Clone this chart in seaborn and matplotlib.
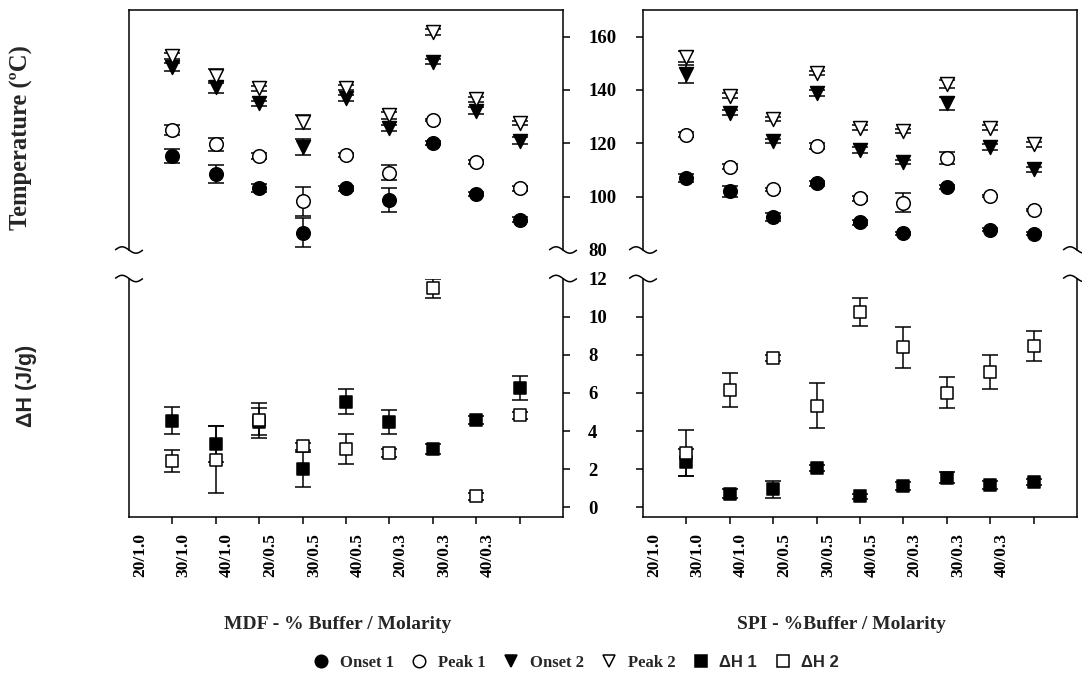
import numpy as np
import matplotlib
matplotlib.use("Agg")
import matplotlib.pyplot as plt
import matplotlib.transforms as mtransforms
from matplotlib.lines import Line2D
import seaborn as sns

# Sample positions along the x axis and the buffer / molarity conditions
positions = [1, 2, 3, 4, 5, 6, 7, 8, 9]
conditions = ["20/1.0", "30/1.0", "40/1.0", "20/0.5", "30/0.5",
              "40/0.5", "20/0.3", "30/0.3", "40/0.3"]

# MDF: transition temperatures (ºC) with standard deviations
mdf_onset1 = [115.3, 108.5, 103.4, 86.5, 103.1, 98.8, 120.0, 101.0, 91.4]
mdf_onset1_sd = [2.5, 3.2, 1.5, 5.5, 0.8, 4.5, 0.8, 0.8, 0.8]
mdf_peak1 = [125.0, 119.6, 115.3, 98.2, 115.6, 109.0, 128.8, 112.9, 103.1]
mdf_peak1_sd = [1.8, 2.4, 1.0, 5.5, 0.6, 2.8, 0.5, 0.8, 0.8]
mdf_onset2 = [148.8, 141.0, 135.0, 118.5, 137.0, 125.8, 150.6, 132.3, 121.0]
mdf_onset2_sd = [1.5, 2.3, 1.0, 3.0, 1.0, 1.0, 1.0, 1.2, 1.2]
mdf_peak2 = [152.8, 145.3, 140.6, 128.0, 140.9, 130.5, 161.8, 136.5, 127.5]
mdf_peak2_sd = [1.2, 2.5, 1.0, 2.8, 1.0, 1.2, 1.2, 1.0, 0.8]

# MDF: enthalpies (J/g) with standard deviations
mdf_dh1 = [4.55, 3.33, 4.50, 2.00, 5.55, 4.50, 3.07, 4.60, 6.28]
mdf_dh1_sd = [0.70, 0.95, 0.70, 0.93, 0.65, 0.63, 0.25, 0.20, 0.63]
mdf_dh2 = [2.45, 2.50, 4.56, 3.20, 3.07, 2.85, 11.50, 0.58, 4.82]
mdf_dh2_sd = [0.58, 1.75, 0.90, 0.20, 0.80, 0.20, 0.50, 0.20, 0.20]

# SPI: transition temperatures (ºC) with standard deviations
spi_onset1 = [107.1, 102.0, 92.5, 105.0, 90.4, 86.3, 103.6, 87.6, 86.1]
spi_onset1_sd = [1.5, 2.0, 1.5, 1.0, 1.0, 0.5, 0.8, 0.5, 0.5]
spi_peak1 = [123.2, 111.3, 102.8, 119.0, 99.4, 97.8, 114.6, 100.3, 95.0]
spi_peak1_sd = [1.0, 0.8, 0.5, 1.2, 1.0, 3.7, 2.3, 0.5, 0.5]
spi_onset2 = [146.0, 131.5, 120.8, 138.8, 117.5, 113.1, 135.0, 118.6, 110.3]
spi_onset2_sd = [3.5, 1.0, 0.8, 1.2, 1.0, 0.8, 2.5, 1.0, 1.0]
spi_peak2 = [152.5, 137.9, 129.0, 146.5, 125.9, 124.6, 142.3, 125.9, 119.6]
spi_peak2_sd = [2.0, 1.0, 0.8, 0.8, 0.8, 0.8, 1.5, 0.8, 0.8]

# SPI: enthalpies (J/g) with standard deviations
spi_dh1 = [2.36, 0.72, 0.96, 2.06, 0.58, 1.14, 1.57, 1.19, 1.33]
spi_dh1_sd = [0.70, 0.25, 0.45, 0.15, 0.15, 0.20, 0.30, 0.20, 0.15]
spi_dh2 = [2.85, 6.16, 7.85, 5.32, 10.26, 8.40, 6.02, 7.12, 8.47]
spi_dh2_sd = [1.20, 0.90, 0.15, 1.18, 0.74, 1.07, 0.80, 0.89, 0.79]

temp_ticks = [80, 100, 120, 140, 160]
dh_ticks = [0, 2, 4, 6, 8, 10, 12]

sns.set_theme(style="ticks")
plt.rcParams.update({
    "font.family": ["Liberation Serif", "DejaVu Sans"],
    "font.weight": "bold",
    "axes.linewidth": 1.1,
    "axes.edgecolor": "black",
    "xtick.color": "black",
    "ytick.color": "black",
    "figure.facecolor": "white",
    "axes.facecolor": "white",
})

W, H = 1082, 675
fig = plt.figure(figsize=(W / 100, H / 100), dpi=100)


def add_axes_px(x0, y0, x1, y1):
    return fig.add_axes([x0 / W, 1 - y1 / H, (x1 - x0) / W, (y1 - y0) / H])


LW = 1.1
SERIES_STYLE = {
    "onset1": dict(marker="o", filled=True, s=95),
    "peak1": dict(marker="o", filled=False, s=95),
    "onset2": dict(marker="v", filled=True, s=100),
    "peak2": dict(marker="v", filled=False, s=100),
    "dh1": dict(marker="s", filled=True, s=80),
    "dh2": dict(marker="s", filled=False, s=80),
}


def draw_series(ax, key, values, sd):
    st = SERIES_STYLE[key]
    ax.errorbar(positions, values, yerr=sd, fmt="none", ecolor="black",
                elinewidth=LW, capsize=5.5, capthick=LW, zorder=2)
    sns.scatterplot(x=positions, y=values, marker=st["marker"], s=st["s"],
                    color="black" if st["filled"] else "white",
                    edgecolor="black", linewidth=LW, ax=ax, zorder=3,
                    legend=False)


def draw_break(ax, xa, ya):
    # small tilde drawn across a spine end to mark the axis break
    t = np.linspace(-1, 1, 40)
    xs = t * 10 / 72          # inches
    ys = -np.sin(np.pi * t) * 2.3 / 72
    trans = fig.dpi_scale_trans + mtransforms.ScaledTranslation(xa, ya, ax.transAxes)
    ax.plot(xs, ys, color="black", lw=LW, transform=trans, clip_on=False,
            zorder=5, solid_capstyle="butt")


def hide_tick_line(ax, index):
    tick = ax.yaxis.get_major_ticks()[index]
    tick.tick1line.set_visible(False)
    tick.tick2line.set_visible(False)


panels = [
    dict(x0=129, x1=563, side="left",
         temps=[("onset1", mdf_onset1, mdf_onset1_sd), ("peak1", mdf_peak1, mdf_peak1_sd),
                ("onset2", mdf_onset2, mdf_onset2_sd), ("peak2", mdf_peak2, mdf_peak2_sd)],
         dhs=[("dh1", mdf_dh1, mdf_dh1_sd), ("dh2", mdf_dh2, mdf_dh2_sd)],
         xlabel="MDF - % Buffer / Molarity", xlabel_x=0.480),
    dict(x0=643, x1=1077, side="right",
         temps=[("onset1", spi_onset1, spi_onset1_sd), ("peak1", spi_peak1, spi_peak1_sd),
                ("onset2", spi_onset2, spi_onset2_sd), ("peak2", spi_peak2, spi_peak2_sd)],
         dhs=[("dh1", spi_dh1, spi_dh1_sd), ("dh2", spi_dh2, spi_dh2_sd)],
         xlabel="SPI - %Buffer / Molarity", xlabel_x=0.458),
]

TICK_FS = 13.5
for p in panels:
    ax_t = add_axes_px(p["x0"], 10, p["x1"], 250)
    ax_h = add_axes_px(p["x0"], 278.5, p["x1"], 517)

    for key, vals, sd in p["temps"]:
        draw_series(ax_t, key, vals, sd)
    for key, vals, sd in p["dhs"]:
        draw_series(ax_h, key, vals, sd)

    for ax in (ax_t, ax_h):
        ax.set_xlim(0, 10)
        ax.set_xlabel("")
        ax.set_ylabel("")
        for s in ("left", "right"):
            ax.spines[s].set_visible(True)
            ax.spines[s].set_linewidth(LW)

    ax_t.set_ylim(80, 170)
    ax_h.set_ylim(-0.5, 12)
    ax_t.spines["bottom"].set_visible(False)
    ax_t.spines["top"].set_visible(True)
    ax_t.spines["top"].set_linewidth(LW)
    ax_h.spines["top"].set_visible(False)
    ax_h.spines["bottom"].set_linewidth(LW)

    ax_t.set_xticks([])
    ax_t.set_yticks(temp_ticks)
    ax_h.set_yticks(dh_ticks)

    for ax in (ax_t, ax_h):
        if p["side"] == "left":
            ax.tick_params(axis="y", which="major", left=False, right=True,
                           labelleft=False, labelright=True, direction="out",
                           length=5, width=LW, pad=13, labelsize=TICK_FS)
            for lab in ax.get_yticklabels():
                lab.set_fontweight("bold")
        else:
            ax.tick_params(axis="y", which="major", left=True, right=False,
                           labelleft=False, labelright=False, direction="out",
                           length=5, width=LW)
    hide_tick_line(ax_t, 0)
    hide_tick_line(ax_h, len(dh_ticks) - 1)

    # major ticks mark the samples, condition names sit on offset minor ticks
    ax_h.set_xticks(positions)
    ax_h.set_xticklabels([])
    ax_h.set_xticks([x - 0.74 for x in positions], minor=True)
    ax_h.set_xticklabels(conditions, minor=True, rotation=90,
                         fontsize=12.5, fontweight="bold")
    ax_h.tick_params(axis="x", which="major", bottom=True, direction="out",
                     length=5, width=LW)
    ax_h.tick_params(axis="x", which="minor", length=0, pad=11.5)

    ax_h.set_xlabel(p["xlabel"], fontsize=14, fontweight="bold")
    ax_h.xaxis.set_label_coords(p["xlabel_x"], -0.415)

    for xa in (0, 1):
        draw_break(ax_t, xa, 0)
        draw_break(ax_h, xa, 1)

    if p["side"] == "left":
        ax_t.set_ylabel("Temperature (ºC)", fontsize=17.7, fontweight="bold")
        ax_t.yaxis.set_label_position("left")
        ax_t.yaxis.set_label_coords(-0.222, 0.467)
        ax_h.set_ylabel("ΔH (J/g)", fontsize=15.5, fontweight="bold",
                        family=["Liberation Sans", "DejaVu Sans"])
        ax_h.yaxis.set_label_position("left")
        ax_h.yaxis.set_label_coords(-0.212, 0.55)

# shared legend below both panels
legend_items = [("Onset 1", "o", True), ("Peak 1", "o", False),
                ("Onset 2", "v", True), ("Peak 2", "v", False),
                ("ΔH 1", "s", True), ("ΔH 2", "s", False)]
handles = [Line2D([], [], linestyle="none", marker=m, markersize=9,
                  markerfacecolor="black" if f else "white",
                  markeredgecolor="black", markeredgewidth=LW)
           for _, m, f in legend_items]
leg = fig.legend(handles, [n for n, _, _ in legend_items], loc="center",
                 bbox_to_anchor=(576 / W, 1 - 663 / H), ncol=6, frameon=False,
                 handlelength=1.0, handletextpad=0.6, columnspacing=1.05,
                 prop={"size": 12, "weight": "bold"})
for txt in leg.get_texts()[4:]:
    txt.set_family(["Liberation Sans", "DejaVu Sans"])

fig.savefig("out.png", dpi=100, facecolor="white")
